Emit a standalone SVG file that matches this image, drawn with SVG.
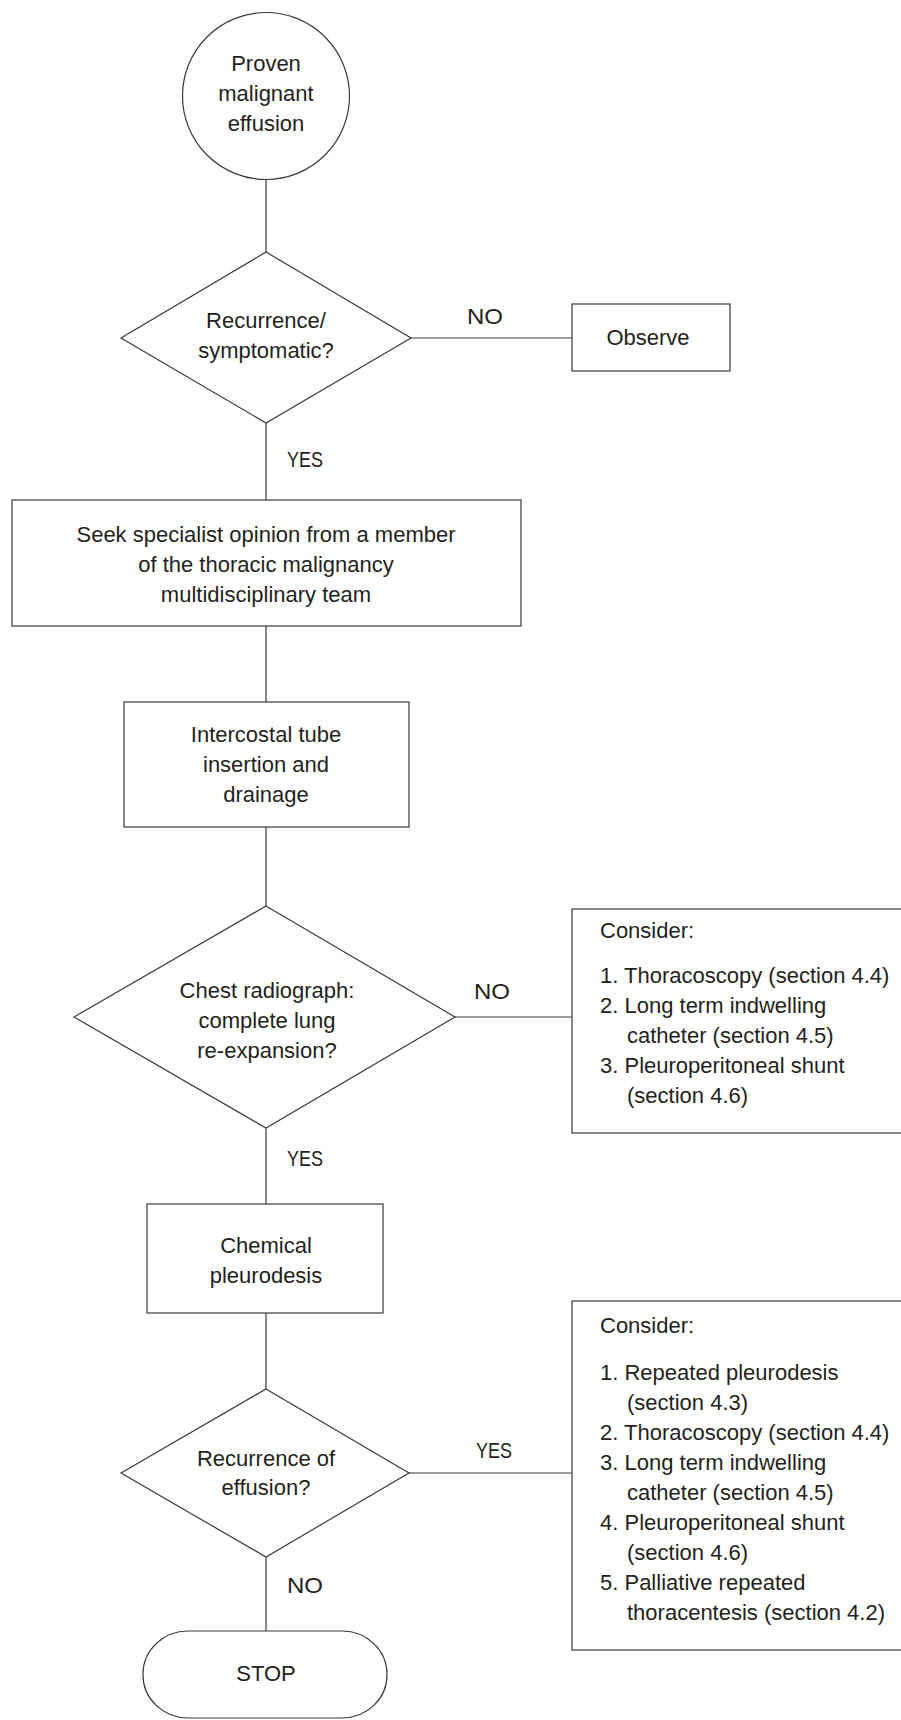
<svg xmlns="http://www.w3.org/2000/svg" width="901" height="1720" viewBox="0 0 901 1720">
<defs>
<style>
.shape{fill:#ffffff;stroke:#3a3a3a;stroke-width:1.2}
.conn{fill:none;stroke:#3a3a3a;stroke-width:1.2}
text{font-family:"Liberation Sans",Arial,sans-serif;font-size:22px;fill:#231f20}
.c{text-anchor:middle}
</style>
</defs>
<rect width="901" height="1720" fill="#ffffff"/>
<g id="connectors">
<line class="conn" x1="266" y1="179" x2="266" y2="252"/>
<line class="conn" x1="411" y1="338" x2="572" y2="338"/>
<line class="conn" x1="266" y1="423" x2="266" y2="500"/>
<line class="conn" x1="266" y1="626" x2="266" y2="702"/>
<line class="conn" x1="266" y1="827" x2="266" y2="906"/>
<line class="conn" x1="455" y1="1017" x2="572" y2="1017"/>
<line class="conn" x1="266" y1="1128" x2="266" y2="1204"/>
<line class="conn" x1="266" y1="1313" x2="266" y2="1389"/>
<line class="conn" x1="409" y1="1473" x2="572" y2="1473"/>
<line class="conn" x1="266" y1="1557" x2="266" y2="1631"/>
<text x="467" y="324" textLength="36" lengthAdjust="spacingAndGlyphs">NO</text>
<text x="287" y="467" textLength="36" lengthAdjust="spacingAndGlyphs">YES</text>
<text x="474" y="999" textLength="36" lengthAdjust="spacingAndGlyphs">NO</text>
<text x="287" y="1166" textLength="36" lengthAdjust="spacingAndGlyphs">YES</text>
<text x="476" y="1458" textLength="36" lengthAdjust="spacingAndGlyphs">YES</text>
<text x="287" y="1593" textLength="36" lengthAdjust="spacingAndGlyphs">NO</text>
</g>
<g id="start">
<circle class="shape" cx="266" cy="96" r="83.5"/>
<text class="c" x="266" y="71">Proven</text>
<text class="c" x="266" y="101">malignant</text>
<text class="c" x="266" y="131">effusion</text>
</g>
<g id="decision-recurrence">
<polygon class="shape" points="266,252 411,338 266,423 121,338"/>
<text class="c" x="266" y="328">Recurrence/</text>
<text class="c" x="266" y="358">symptomatic?</text>
</g>
<g id="observe">
<rect class="shape" x="572" y="304" width="158" height="67"/>
<text class="c" x="648" y="345">Observe</text>
</g>
<g id="specialist">
<rect class="shape" x="12" y="500" width="509" height="126"/>
<text class="c" x="266" y="542">Seek specialist opinion from a member</text>
<text class="c" x="266" y="572">of the thoracic malignancy</text>
<text class="c" x="266" y="602">multidisciplinary team</text>
</g>
<g id="intercostal">
<rect class="shape" x="124" y="702" width="285" height="125"/>
<text class="c" x="266" y="742">Intercostal tube</text>
<text class="c" x="266" y="772">insertion and</text>
<text class="c" x="266" y="802">drainage</text>
</g>
<g id="decision-radiograph">
<polygon class="shape" points="266,906 455,1017 266,1128 74,1017"/>
<text class="c" x="267" y="998">Chest radiograph:</text>
<text class="c" x="267" y="1028">complete lung</text>
<text class="c" x="267" y="1058">re-expansion?</text>
</g>
<g id="consider-1">
<rect class="shape" x="572" y="909" width="340" height="224"/>
<text x="600" y="938">Consider:</text>
<text x="600" y="983">1. Thoracoscopy (section 4.4)</text>
<text x="600" y="1013">2. Long term indwelling</text>
<text x="627" y="1043">catheter (section 4.5)</text>
<text x="600" y="1073">3. Pleuroperitoneal shunt</text>
<text x="627" y="1103">(section 4.6)</text>
</g>
<g id="pleurodesis">
<rect class="shape" x="147" y="1204" width="236" height="109"/>
<text class="c" x="266" y="1253">Chemical</text>
<text class="c" x="266" y="1283">pleurodesis</text>
</g>
<g id="decision-effusion">
<polygon class="shape" points="266,1389 409,1473 266,1557 121,1473"/>
<text class="c" x="266" y="1466">Recurrence of</text>
<text class="c" x="266" y="1495">effusion?</text>
</g>
<g id="consider-2">
<rect class="shape" x="572" y="1301" width="340" height="349"/>
<text x="600" y="1333">Consider:</text>
<text x="600" y="1380">1. Repeated pleurodesis</text>
<text x="627" y="1410">(section 4.3)</text>
<text x="600" y="1440">2. Thoracoscopy (section 4.4)</text>
<text x="600" y="1470">3. Long term indwelling</text>
<text x="627" y="1500">catheter (section 4.5)</text>
<text x="600" y="1530">4. Pleuroperitoneal shunt</text>
<text x="627" y="1560">(section 4.6)</text>
<text x="600" y="1590">5. Palliative repeated</text>
<text x="627" y="1620">thoracentesis (section 4.2)</text>
</g>
<g id="stop">
<rect class="shape" x="143" y="1631" width="244" height="87" rx="45" ry="43"/>
<text class="c" x="266" y="1681">STOP</text>
</g>
</svg>
